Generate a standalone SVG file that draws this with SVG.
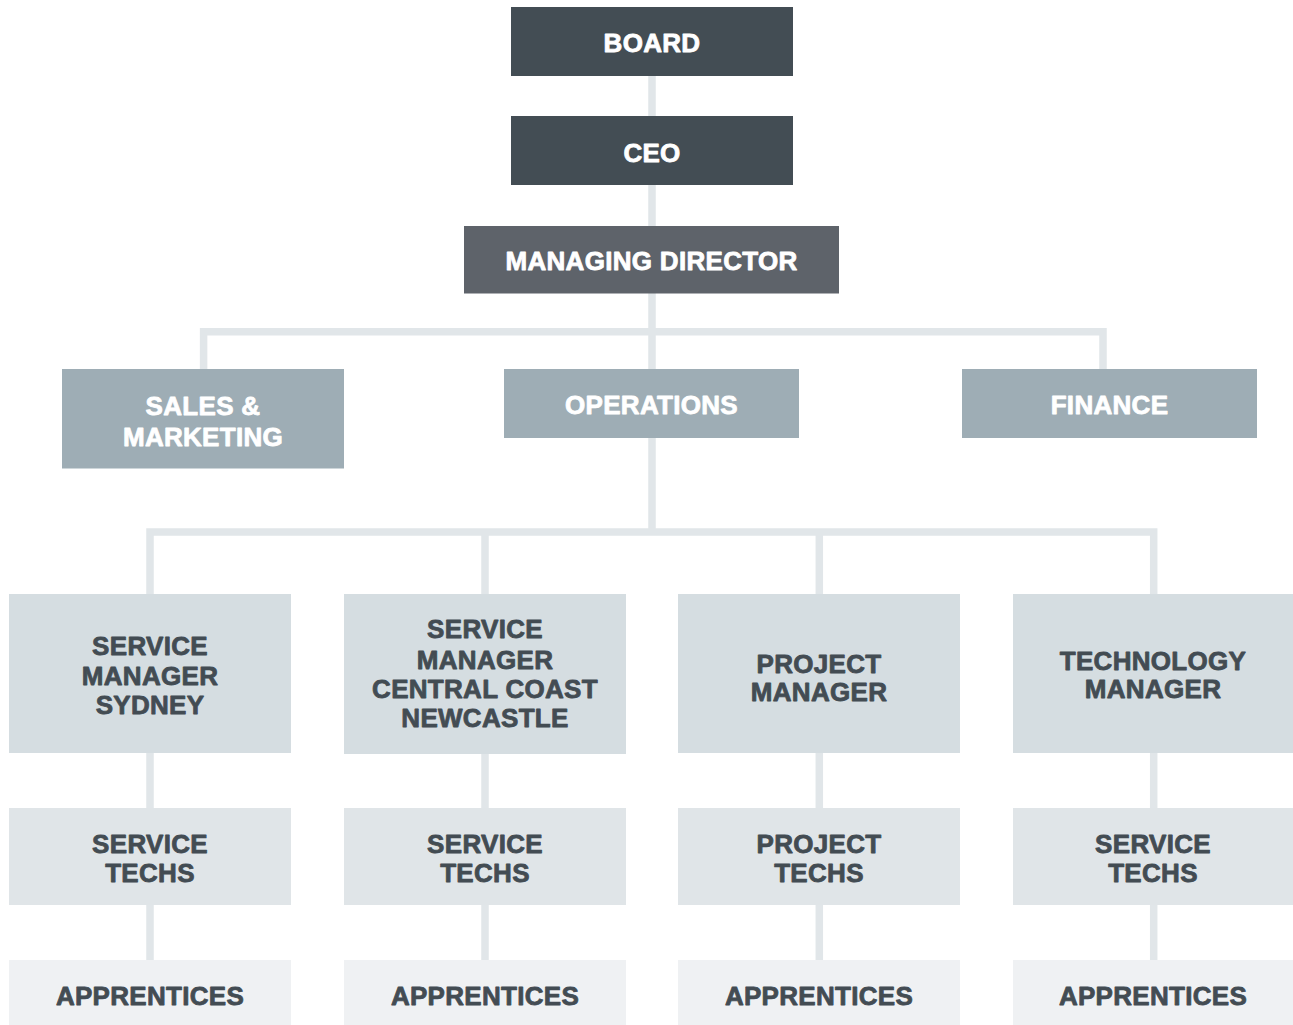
<svg xmlns="http://www.w3.org/2000/svg" width="1293" height="1025" viewBox="0 0 1293 1025">
<style>
text{font-family:"Liberation Sans",Arial,sans-serif;font-weight:700;font-size:26px;text-anchor:middle;letter-spacing:0.3px;stroke-width:0.8px;stroke-linejoin:round}
.w{fill:#ffffff;stroke:#ffffff}
.d{fill:#434c53;stroke:#434c53}
.c{fill:none;stroke:#e1e6e9;stroke-width:7.5;stroke-linejoin:miter}
</style>
<rect width="1293" height="1025" fill="#ffffff"/>
<g id="connectors">
<path class="c" d="M652 76V532"/>
<path class="c" d="M203.6 369V331.7H1103V369"/>
<path class="c" d="M150 594V532H1153.7V594"/>
<path class="c" d="M485 532V594"/>
<path class="c" d="M819.3 532V594"/>
<path class="c" d="M150 752V960M485 752V960M819.3 752V960M1153.7 752V960"/>
</g>
<g id="board"><rect x="511" y="7" width="282" height="69" fill="#434d54"/><text class="w" x="652" y="52">BOARD</text></g>
<g id="ceo"><rect x="511" y="116" width="282" height="69" fill="#434d54"/><text class="w" x="652" y="162">CEO</text></g>
<g id="md"><rect x="464" y="226" width="375" height="67.5" fill="#5e636a"/><text class="w" x="651.5" y="270">MANAGING DIRECTOR</text></g>
<g id="sales"><rect x="62" y="369" width="282" height="99.5" fill="#9eadb5"/><text class="w" x="203" y="414.5">SALES &amp;</text><text class="w" x="203" y="446">MARKETING</text></g>
<g id="operations"><rect x="504" y="369" width="295" height="69" fill="#9eadb5"/><text class="w" x="651.5" y="414">OPERATIONS</text></g>
<g id="finance"><rect x="962" y="369" width="295" height="69" fill="#9eadb5"/><text class="w" x="1109.5" y="414">FINANCE</text></g>
<g id="sm-sydney"><rect x="9" y="594" width="282" height="159" fill="#d5dde1"/><text class="d" x="150" y="655">SERVICE</text><text class="d" x="150" y="685">MANAGER</text><text class="d" x="150" y="714">SYDNEY</text></g>
<g id="sm-cc"><rect x="344" y="594" width="282" height="160" fill="#d5dde1"/><text class="d" x="485" y="638">SERVICE</text><text class="d" x="485" y="669">MANAGER</text><text class="d" x="485" y="698">CENTRAL COAST</text><text class="d" x="485" y="727">NEWCASTLE</text></g>
<g id="pm"><rect x="678" y="594" width="282" height="159" fill="#d5dde1"/><text class="d" x="819" y="673">PROJECT</text><text class="d" x="819" y="701">MANAGER</text></g>
<g id="tm"><rect x="1013" y="594" width="280" height="159" fill="#d5dde1"/><text class="d" x="1153" y="670">TECHNOLOGY</text><text class="d" x="1153" y="698">MANAGER</text></g>
<g id="st1"><rect x="9" y="808" width="282" height="97" fill="#e0e5e8"/><text class="d" x="150" y="853">SERVICE</text><text class="d" x="150" y="882">TECHS</text></g>
<g id="st2"><rect x="344" y="808" width="282" height="97" fill="#e0e5e8"/><text class="d" x="485" y="853">SERVICE</text><text class="d" x="485" y="882">TECHS</text></g>
<g id="pt"><rect x="678" y="808" width="282" height="97" fill="#e0e5e8"/><text class="d" x="819" y="853">PROJECT</text><text class="d" x="819" y="882">TECHS</text></g>
<g id="st4"><rect x="1013" y="808" width="280" height="97" fill="#e0e5e8"/><text class="d" x="1153" y="853">SERVICE</text><text class="d" x="1153" y="882">TECHS</text></g>
<g id="ap1"><rect x="9" y="960" width="282" height="65" fill="#eff1f3"/><text class="d" x="150" y="1005">APPRENTICES</text></g>
<g id="ap2"><rect x="344" y="960" width="282" height="65" fill="#eff1f3"/><text class="d" x="485" y="1005">APPRENTICES</text></g>
<g id="ap3"><rect x="678" y="960" width="282" height="65" fill="#eff1f3"/><text class="d" x="819" y="1005">APPRENTICES</text></g>
<g id="ap4"><rect x="1013" y="960" width="280" height="65" fill="#eff1f3"/><text class="d" x="1153" y="1005">APPRENTICES</text></g>
</svg>
